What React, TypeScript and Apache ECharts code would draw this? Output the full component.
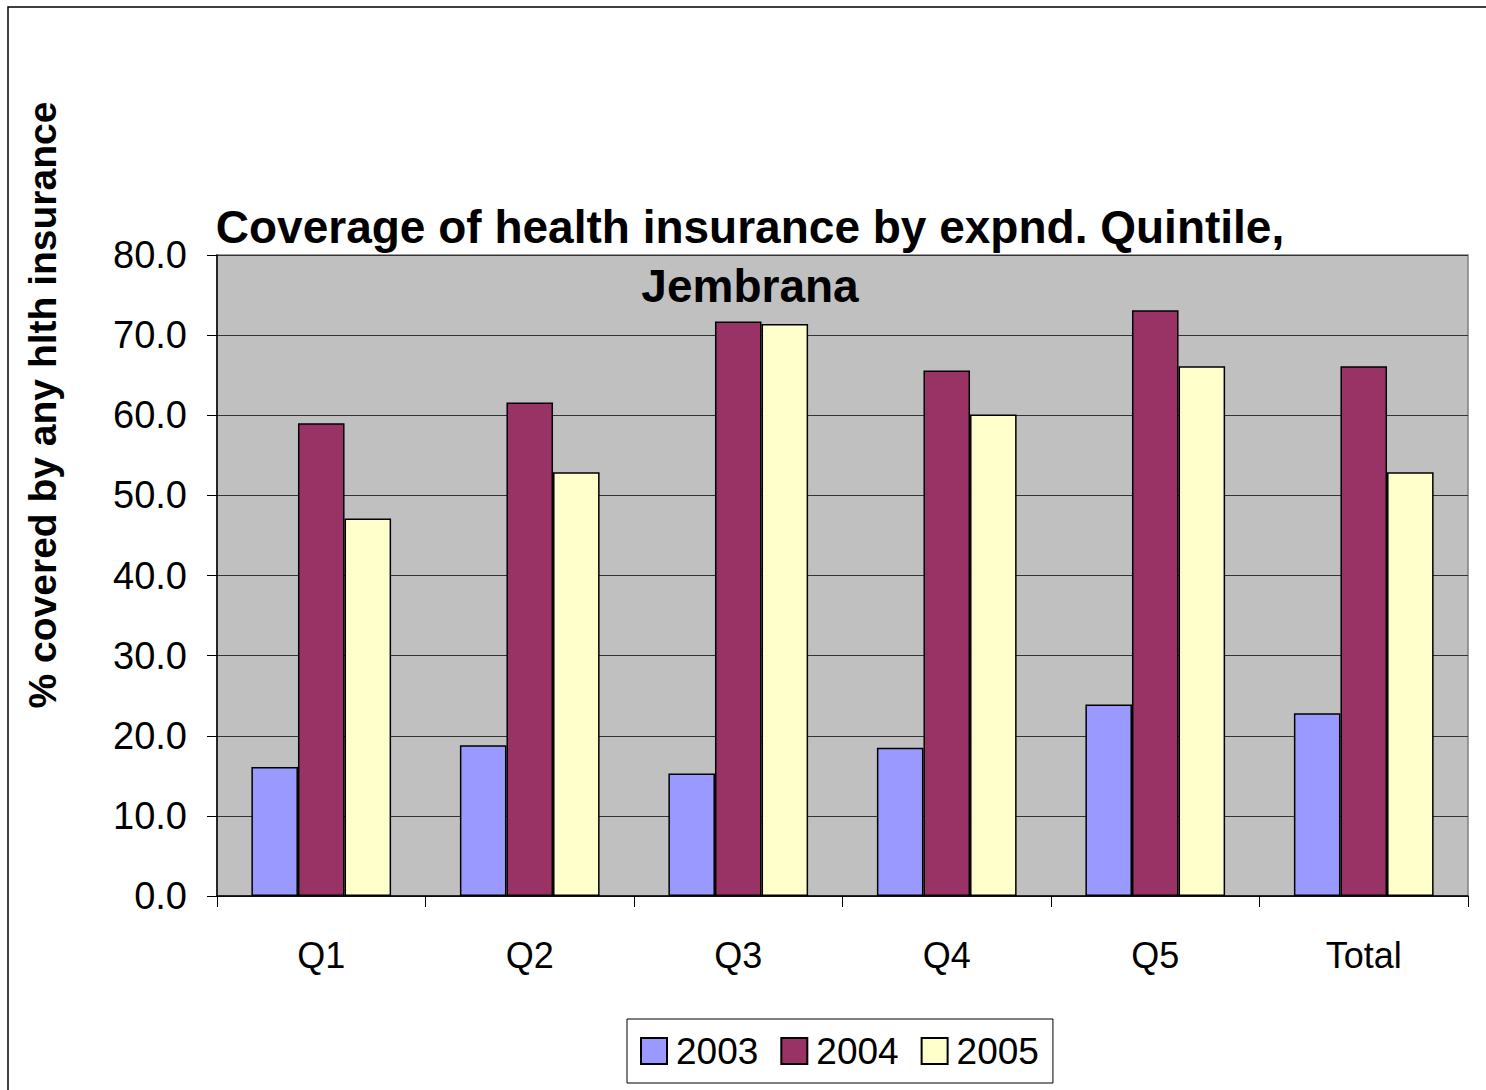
import React, { useEffect, useRef } from "react";
import * as echarts from "echarts";

const categories = ["Q1", "Q2", "Q3", "Q4", "Q5", "Total"];
const years = ["2003", "2004", "2005"];
const values2003 = [16.1, 18.8, 15.3, 18.5, 23.9, 22.8];
const values2004 = [59.0, 61.6, 71.7, 65.6, 73.1, 66.1];
const values2005 = [47.1, 52.9, 71.4, 60.1, 66.1, 52.9];
const colors = ["#9999FF", "#993366", "#FFFFCC"];

const FONT = '"Liberation Sans", Arial, sans-serif';

export default function App() {
  const ref = useRef<HTMLDivElement>(null);
  useEffect(() => {
    if (!ref.current) return;
    const chart = echarts.init(ref.current, undefined, { renderer: "svg" });
    const seriesData = [values2003, values2004, values2005];
    chart.setOption({
      animation: false,
      backgroundColor: "#ffffff",
      textStyle: { fontFamily: FONT },
      title: {
        text: "Coverage of health insurance by expnd. Quintile,\nJembrana",
        left: 745,
        top: 192,
        textAlign: "center",
        textStyle: {
          fontFamily: FONT,
          fontSize: 46,
          fontWeight: "bold",
          color: "#000",
          lineHeight: 59,
        },
      },
      graphic: [
        {
          type: "rect",
          shape: { x: 8, y: 7, width: 1600, height: 1200 },
          style: { fill: "none", stroke: "#000", lineWidth: 1.5 },
          silent: true,
        },
        {
          type: "text",
          x: 42,
          y: 405,
          rotation: Math.PI / 2,
          style: {
            text: "% covered by any hlth insurance",
            fontFamily: FONT,
            fontSize: 39,
            fontWeight: "bold",
            fill: "#000",
            textAlign: "center",
            textVerticalAlign: "middle",
          },
        },
      ],
      legend: {
        data: years,
        left: 627,
        top: 1019,
        orient: "horizontal",
        icon: "rect",
        itemWidth: 26,
        itemHeight: 26,
        itemGap: 22,
        padding: [12, 14, 12, 13],
        borderColor: "#000",
        borderWidth: 1,
        backgroundColor: "#fff",
        textStyle: {
          fontFamily: FONT,
          fontSize: 37,
          color: "#000",
          lineHeight: 40,
          padding: [0, 0, 0, 4],
        },
      },
      grid: {
        left: 217,
        top: 255,
        width: 1251,
        height: 641,
        show: true,
        backgroundColor: "#C0C0C0",
        borderColor: "#808080",
        borderWidth: 1.5,
        containLabel: false,
      },
      xAxis: {
        type: "category",
        data: categories,
        boundaryGap: true,
        axisLine: { show: true, lineStyle: { color: "#000", width: 1.5 } },
        axisTick: { show: true, length: 11, interval: 0, lineStyle: { color: "#000", width: 1 } },
        axisLabel: {
          interval: 0,
          margin: 41,
          fontFamily: FONT,
          fontSize: 36,
          color: "#000",
        },
        splitLine: { show: false },
      },
      yAxis: {
        type: "value",
        min: 0,
        max: 80,
        interval: 10,
        axisLine: { show: true, lineStyle: { color: "#000", width: 1.5 } },
        axisTick: { show: true, length: 10, lineStyle: { color: "#000", width: 1 } },
        axisLabel: {
          margin: 30,
          fontFamily: FONT,
          fontSize: 38,
          color: "#000",
          formatter: (v: number) => v.toFixed(1),
        },
        splitLine: { show: true, lineStyle: { color: "#333", width: 1 } },
      },
      series: years.map((y, i) => ({
        name: y,
        type: "bar",
        data: seriesData[i],
        barGap: "0%",
        barCategoryGap: "33%",
        itemStyle: { color: colors[i], borderColor: "#000", borderWidth: 1.5 },
      })),
    });
    return () => chart.dispose();
  }, []);
  return (
    <div
      ref={ref}
      style={{ position: "fixed", left: 0, top: 0, width: 1486, height: 1090 }}
    />
  );
}
